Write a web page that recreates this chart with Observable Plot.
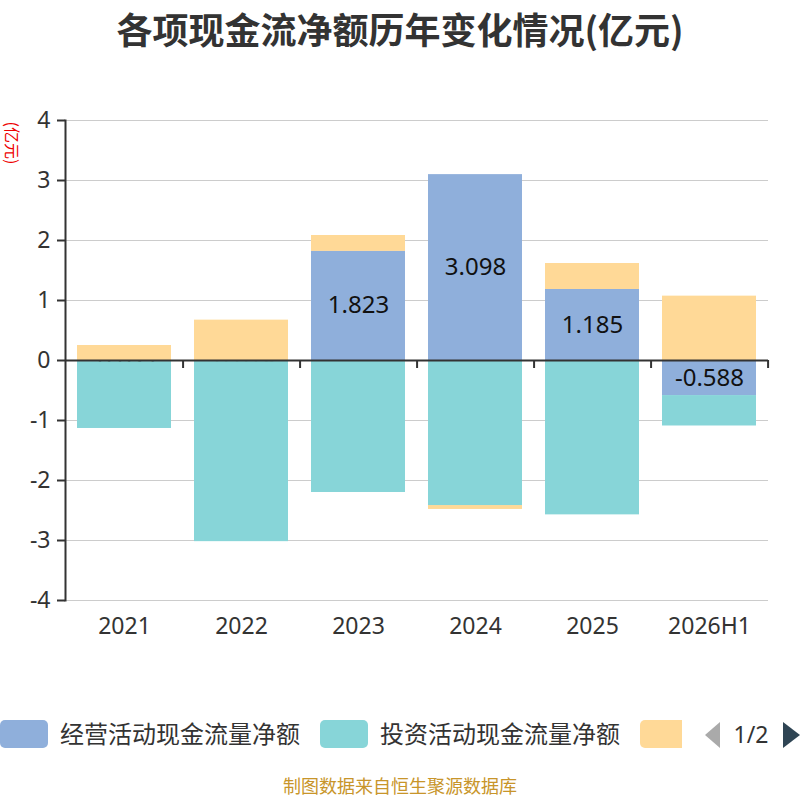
<!DOCTYPE html>
<html>
<head>
<meta charset="utf-8">
<script src="https://cdn.jsdelivr.net/npm/d3@7"></script>
<script src="https://cdn.jsdelivr.net/npm/@observablehq/plot@0.6"></script>
<style>
  body { margin: 0; width: 800px; height: 800px; position: relative; overflow: hidden; background: #fff;
         font-family: "Noto Sans", "Noto Sans CJK SC", sans-serif; }
  #title { position: absolute; top: 3px; left: 0; width: 800px; text-align: center; font-size: 36px; font-weight: bold; color: #333;
           font-family: "Noto Sans CJK SC", sans-serif; line-height: 50px; }
  #chart { position: absolute; top: 60px; left: 0; }
  #unit { position: absolute; left: -10px; top: 134px; width: 46px; height: 18px; line-height: 18px; color: #e00; font-size: 16px;
          transform: rotate(90deg); font-family: "Noto Sans CJK SC", sans-serif; white-space: nowrap; text-align: center; z-index: 2; }
  #legend { position: absolute; top: 716px; left: 0; width: 800px; height: 40px; font-size: 24px; color: #333;
            font-family: "Noto Sans CJK SC", sans-serif; }
  .sw { position: absolute; top: 4px; width: 48px; height: 28px; border-radius: 5px; }
  .lt { position: absolute; top: 1px; line-height: 32px; white-space: nowrap; }
  #footer { position: absolute; top: 775px; left: 0; width: 800px; text-align: center; font-size: 18px; line-height: 20px; color: #c8952a;
            font-family: "Noto Sans CJK SC", sans-serif; }
</style>
</head>
<body>
<div id="title"></div>
<div id="chart"></div>
<div id="unit">(亿元)</div>
<div id="legend"></div>
<div id="footer">制图数据来自恒生聚源数据库</div>
<script>
const title = "各项现金流净额历年变化情况(亿元)";
const years = ["2021", "2022", "2023", "2024", "2025", "2026H1"];
const seriesNames = ["经营活动现金流量净额", "投资活动现金流量净额", "筹资活动现金流量净额"];
const operating = [-0.021, -0.018, 1.823, 3.098, 1.185, -0.588];
const investing = [-1.11, -3.00, -2.20, -2.42, -2.57, -0.50];
const financing = [0.25, 0.67, 0.26, -0.06, 0.43, 1.07];
const colors = ["#8fafdb", "#87d5d8", "#ffd997"];
const yTicks = [-4, -3, -2, -1, 0, 1, 2, 3, 4];

document.getElementById("title").textContent = title;

const seriesValues = [operating, investing, financing];
const rows = [];
years.forEach((yr, i) => {
  seriesValues.forEach((vals, s) => {
    rows.push({year: yr, series: seriesNames[s], value: vals[i], color: colors[s], s});
  });
});
const opRows = rows.filter(d => d.s === 0);

const W = 800, H = 600, mL = 65, mR = 32;
const step = (W - mL - mR) / years.length;

const chart = Plot.plot({
  width: W, height: H,
  marginTop: 60, marginBottom: 60, marginLeft: mL, marginRight: mR,
  style: {fontFamily: "'Noto Sans', 'Noto Sans CJK SC', sans-serif", color: "#333", background: "#fff"},
  x: {domain: years, paddingInner: 0.2, paddingOuter: 0.1, label: null},
  y: {domain: [-4, 4], label: null},
  marks: [
    Plot.gridY(yTicks, {stroke: "#ccc", strokeOpacity: 1, strokeWidth: 1}),
    Plot.barY(rows, Plot.stackY({x: "year", y: "value", fill: "color"})),
    Plot.text(opRows, {x: "year", y: d => d.value / 2, text: d => d.value.toFixed(3), fontSize: 24, fill: "#111"}),
    Plot.barY(rows, Plot.stackY({x: "year", y: "value", fill: d => d.s === 0 ? "none" : d.color})),
    Plot.ruleY([0], {stroke: "#333", strokeWidth: 2}),
    Plot.ruleX(years, {x: d => d, y1: 0, y2: 0, insetBottom: -8, dx: step / 2, stroke: "#333", strokeWidth: 2}),
    Plot.frame({anchor: "left", stroke: "#333", strokeWidth: 2}),
    Plot.axisY(yTicks, {tickSize: 8, tickPadding: 7, fontSize: 23, stroke: "#333", strokeWidth: 2, fill: "#333", tickFormat: d => String(d)}),
    Plot.axisX({anchor: "bottom", tickSize: 0, tickPadding: 17, fontSize: 23, fill: "#333"})
  ]
});
document.getElementById("chart").appendChild(chart);

// legend (first page)
const legend = document.getElementById("legend");
const items = [
  {sw: 0, swW: 48, tx: 60},
  {sw: 320, swW: 48, tx: 380},
  {sw: 640, swW: 42, tx: null}
];
items.forEach((it, i) => {
  const sw = document.createElement("div");
  sw.className = "sw";
  sw.style.left = it.sw + "px";
  sw.style.width = it.swW + "px";
  sw.style.background = colors[i];
  if (it.tx === null) sw.style.borderRadius = "5px 0 0 5px";
  legend.appendChild(sw);
  if (it.tx !== null) {
    const t = document.createElement("div");
    t.className = "lt";
    t.style.left = it.tx + "px";
    t.textContent = seriesNames[i];
    legend.appendChild(t);
  }
});
const nav = document.createElementNS("http://www.w3.org/2000/svg", "svg");
nav.setAttribute("width", 100); nav.setAttribute("height", 40);
nav.style.position = "absolute"; nav.style.left = "700px"; nav.style.top = "0px";
nav.innerHTML = '<path d="M5,19 L20,6 L20,32 Z" fill="#aaa"/>' +
  '<text x="51" y="27" text-anchor="middle" font-size="23" fill="#333" font-family="Noto Sans, sans-serif">1/2</text>' +
  '<path d="M100,19 L83,6 L83,32 Z" fill="#2f4554"/>';
legend.appendChild(nav);
</script>
</body>
</html>
